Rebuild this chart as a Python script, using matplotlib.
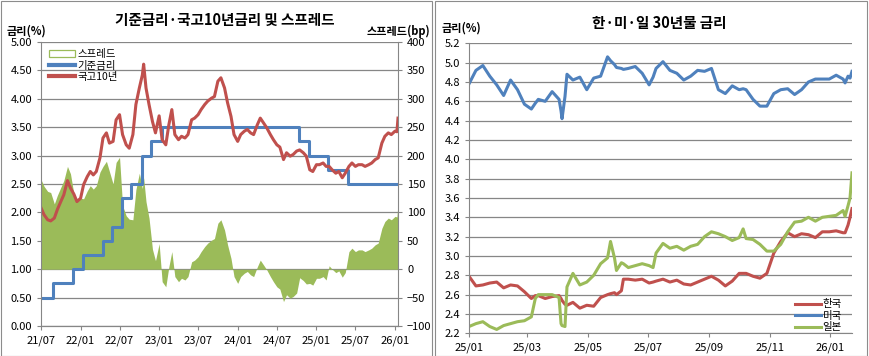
import matplotlib
matplotlib.use("Agg")
import matplotlib.pyplot as plt
import matplotlib.dates as mdates
from matplotlib.lines import Line2D
from matplotlib.patches import Patch, Rectangle
import numpy as np
import pandas as pd

plt.rcParams['font.family'] = ['Noto Sans CJK KR', 'DejaVu Sans']

RED = '#C0504D'
BLUE = '#4F81BD'
GREEN = '#9BBB59'
GRID = '#868686'

# ---- left panel: KTB 10y, base rate, spread ----
ktb_dates = [
    '2021-07-01', '2021-07-15', '2021-08-01', '2021-08-15', '2021-09-01', '2021-09-15',
    '2021-10-01', '2021-10-15', '2021-11-01', '2021-11-15', '2021-12-01', '2021-12-15',
    '2022-01-01', '2022-01-15', '2022-02-01', '2022-02-15', '2022-03-01', '2022-03-15',
    '2022-04-01', '2022-04-15', '2022-05-01', '2022-05-15', '2022-06-01', '2022-06-15',
    '2022-07-01', '2022-07-15', '2022-08-01', '2022-08-15', '2022-09-01', '2022-09-15',
    '2022-10-01', '2022-10-15', '2022-10-21', '2022-11-01', '2022-11-15', '2022-12-01',
    '2022-12-15', '2023-01-01', '2023-01-15', '2023-02-01', '2023-02-15', '2023-03-01',
    '2023-03-15', '2023-04-01', '2023-04-15', '2023-05-01', '2023-05-15', '2023-06-01',
    '2023-06-15', '2023-07-01', '2023-07-15', '2023-08-01', '2023-08-15', '2023-09-01',
    '2023-09-15', '2023-10-01', '2023-10-15', '2023-11-01', '2023-11-15', '2023-12-01',
    '2023-12-15', '2024-01-01', '2024-01-15', '2024-02-01', '2024-02-15', '2024-03-01',
    '2024-03-15', '2024-04-01', '2024-04-15', '2024-05-01', '2024-05-15', '2024-06-01',
    '2024-06-15', '2024-07-01', '2024-07-15', '2024-08-01', '2024-08-15', '2024-09-01',
    '2024-09-15', '2024-10-01', '2024-10-15', '2024-11-01', '2024-11-15', '2024-12-01',
    '2024-12-15', '2025-01-01', '2025-01-15', '2025-02-01', '2025-02-15', '2025-03-01',
    '2025-03-15', '2025-04-01', '2025-04-15', '2025-05-01', '2025-05-15', '2025-06-01',
    '2025-06-15', '2025-07-01', '2025-07-15', '2025-08-01', '2025-08-15', '2025-09-01',
    '2025-09-15', '2025-10-01', '2025-10-15', '2025-11-01', '2025-11-15', '2025-12-01',
    '2025-12-15', '2026-01-01', '2026-01-10', '2026-01-15',
]
ktb10 = [
    2.08, 1.96, 1.87, 1.85, 1.90, 2.05,
    2.19, 2.31, 2.56, 2.43, 2.32, 2.19,
    2.25, 2.49, 2.63, 2.72, 2.66, 2.72,
    2.96, 3.31, 3.40, 3.22, 3.25, 3.63,
    3.72, 3.37, 3.19, 3.13, 3.37, 3.90,
    4.19, 4.42, 4.61, 4.19, 3.90, 3.60,
    3.40, 3.70, 3.28, 3.19, 3.54, 3.81,
    3.37, 3.28, 3.34, 3.31, 3.37, 3.63,
    3.66, 3.72, 3.81, 3.90, 3.96, 4.01,
    4.04, 4.31, 4.37, 4.19, 3.93, 3.69,
    3.37, 3.25, 3.37, 3.43, 3.46, 3.40,
    3.37, 3.54, 3.66, 3.57, 3.49, 3.37,
    3.28, 3.19, 3.15, 2.93, 3.05, 2.99,
    3.02, 3.08, 3.10, 3.05, 2.99, 2.75,
    2.72, 2.84, 2.84, 2.87, 2.81, 2.81,
    2.75, 2.69, 2.72, 2.61, 2.69, 2.81,
    2.87, 2.81, 2.84, 2.84, 2.81, 2.84,
    2.87, 2.93, 2.96, 3.22, 3.34, 3.40,
    3.37, 3.43, 3.42, 3.66,
]
base_dates = ['2021-07-01', '2021-08-26', '2021-11-25', '2022-01-14', '2022-04-14',
              '2022-05-26', '2022-07-13', '2022-08-25', '2022-10-12', '2022-11-24',
              '2023-01-13', '2024-10-11', '2024-11-28', '2025-02-25', '2025-05-29']
base_rate = [0.50, 0.75, 1.00, 1.25, 1.50, 1.75, 2.25, 2.50, 3.00, 3.25,
             3.50, 3.25, 3.00, 2.75, 2.50]
left_ticks = ['2021-07-01', '2022-01-01', '2022-07-01', '2023-01-01', '2023-07-01',
              '2024-01-01', '2024-07-01', '2025-01-01', '2025-07-01', '2026-01-01']

# ---- right panel: 30y yields ----
y30_dates = [
    '2025-01-01', '2025-01-08', '2025-01-15', '2025-01-22', '2025-01-29', '2025-02-05',
    '2025-02-12', '2025-02-19', '2025-02-26', '2025-03-05', '2025-03-09', '2025-03-12',
    '2025-03-19', '2025-03-26', '2025-04-02', '2025-04-04', '2025-04-05', '2025-04-08',
    '2025-04-10', '2025-04-16', '2025-04-23', '2025-04-30', '2025-05-07', '2025-05-14',
    '2025-05-21', '2025-05-24', '2025-05-28', '2025-05-30', '2025-06-04', '2025-06-06',
    '2025-06-11', '2025-06-18', '2025-06-25', '2025-07-02', '2025-07-06', '2025-07-09',
    '2025-07-16', '2025-07-23', '2025-07-30', '2025-08-06', '2025-08-13', '2025-08-20',
    '2025-08-27', '2025-09-03', '2025-09-10', '2025-09-17', '2025-09-24', '2025-10-01',
    '2025-10-05', '2025-10-08', '2025-10-15', '2025-10-22', '2025-10-29', '2025-11-05',
    '2025-11-12', '2025-11-19', '2025-11-26', '2025-12-03', '2025-12-10', '2025-12-17',
    '2025-12-24', '2025-12-31', '2026-01-07', '2026-01-14', '2026-01-16', '2026-01-19',
    '2026-01-21', '2026-01-23',
]
kr30 = [
    2.79, 2.69, 2.70, 2.72, 2.73, 2.67,
    2.70, 2.69, 2.63, 2.56, 2.59, 2.59,
    2.56, 2.58, 2.59, 2.56, 2.54, 2.50,
    2.49, 2.52, 2.46, 2.49, 2.48, 2.57,
    2.60, 2.61, 2.62, 2.60, 2.64, 2.76,
    2.76, 2.75, 2.76, 2.72, 2.73, 2.74,
    2.76, 2.73, 2.75, 2.71, 2.70, 2.73,
    2.76, 2.79, 2.75, 2.69, 2.74, 2.82,
    2.82, 2.82, 2.79, 2.77, 2.82, 3.03,
    3.15, 3.24, 3.20, 3.23, 3.22, 3.19,
    3.25, 3.25, 3.26, 3.24, 3.24, 3.32,
    3.40, 3.49,
]
us30 = [
    4.78, 4.92, 4.97, 4.86, 4.77, 4.66,
    4.82, 4.72, 4.57, 4.52, 4.58, 4.62,
    4.60, 4.70, 4.62, 4.50, 4.42, 4.65,
    4.88, 4.82, 4.85, 4.72, 4.84, 4.86,
    5.06, 5.02, 4.98, 4.95, 4.94, 4.93,
    4.94, 4.96, 4.89, 4.77, 4.85, 4.94,
    5.01, 4.92, 4.89, 4.82, 4.86, 4.92,
    4.91, 4.94, 4.72, 4.68, 4.76, 4.72,
    4.73, 4.72, 4.62, 4.55, 4.55, 4.68,
    4.72, 4.73, 4.67, 4.72, 4.80, 4.83,
    4.83, 4.83, 4.87, 4.83, 4.79, 4.86,
    4.84, 4.91,
]
jp30 = [
    2.27, 2.30, 2.32, 2.27, 2.24, 2.28,
    2.30, 2.32, 2.33, 2.37, 2.56, 2.60,
    2.60, 2.60, 2.57, 2.30, 2.28, 2.27,
    2.68, 2.82, 2.70, 2.73, 2.80, 2.92,
    2.98, 3.15, 2.98, 2.85, 2.93, 2.92,
    2.88, 2.90, 2.92, 2.90, 2.88, 3.03,
    3.13, 3.08, 3.10, 3.06, 3.10, 3.12,
    3.20, 3.25, 3.23, 3.20, 3.16, 3.19,
    3.28, 3.18, 3.17, 3.12, 3.05, 3.05,
    3.12, 3.25, 3.35, 3.36, 3.40, 3.36,
    3.40, 3.41, 3.42, 3.47, 3.41, 3.52,
    3.60, 3.86,
]
right_ticks = ['2025-01-01', '2025-03-01', '2025-05-01', '2025-07-01',
               '2025-09-01', '2025-11-01', '2026-01-01']

kd = pd.to_datetime(ktb_dates)
bd = pd.to_datetime(base_dates)
idx = np.searchsorted(bd.values, kd.values, side='right') - 1
spread = (np.array(ktb10) - np.array(base_rate)[idx]) * 100
step_x = list(bd) + [kd[-1]]
step_y = base_rate + [base_rate[-1]]

W, H = 870, 356
fig = plt.figure(figsize=(8.7, 3.56), dpi=100)
fig.add_artist(Rectangle((0.5 / W, 0.5 / H), 432 / W, 355 / H, transform=fig.transFigure,
                         fill=False, ec='#8c8c8c', lw=0.8))
fig.add_artist(Rectangle((435.5 / W, 0.5 / H), 432 / W, 355 / H, transform=fig.transFigure,
                         fill=False, ec='#8c8c8c', lw=0.8))

# left chart
ax = fig.add_axes([41 / W, 1 - 326 / H, 357 / W, 284 / H])
ax2 = ax.twinx()
ax.set_zorder(ax2.get_zorder() + 1)
ax.patch.set_visible(False)

ax2.fill_between(kd, 0, spread, color=GREEN, lw=0)
ax2.set_ylim(-100, 400)
ax2.set_yticks(range(-100, 401, 50))
ax2.yaxis.grid(True, color=GRID, lw=0.9)
ax2.set_axisbelow(True)

ax.step(step_x, step_y, where='post', color=BLUE, lw=2.2)
ax.plot(kd, ktb10, color=RED, lw=2.2)
ax.set_ylim(0, 5)
ax.set_yticks(np.arange(0, 5.01, 0.5))
ax.set_yticklabels(['%.2f' % v for v in np.arange(0, 5.01, 0.5)])
ax.set_xlim(kd[0], kd[-1])
ax.set_xticks(pd.to_datetime(left_ticks))
ax.xaxis.set_major_formatter(mdates.DateFormatter('%y/%m'))

for a in (ax, ax2):
    for s in a.spines.values():
        s.set_color(GRID)
    a.spines['top'].set_visible(False)
    a.tick_params(direction='out', length=3, color=GRID, labelsize=8, pad=3.5)
ax.spines['right'].set_visible(False)
ax2.spines['left'].set_visible(False)

handles = [Patch(facecolor='white', edgecolor=GREEN, lw=0.9),
           Line2D([], [], color=BLUE, lw=3),
           Line2D([], [], color=RED, lw=3)]
ax.legend(handles, ['스프레드', '기준금리', '국고10년'], loc='upper left',
          bbox_to_anchor=(8 / 357, 1 - 7 / 284), frameon=False, fontsize=7.5,
          handlelength=2.5, handletextpad=0.2, labelspacing=0.15,
          borderpad=0, borderaxespad=0)

fig.text(225 / W, 1 - 20 / H, '기준금리·국고10년금리 및 스프레드', ha='center', va='center',
         fontsize=10.5, fontweight='bold')
fig.text(7 / W, 1 - 31 / H, '금리(%)', ha='left', va='center', fontsize=8, fontweight='bold')
fig.text(430 / W, 1 - 31 / H, '스프레드(bp)', ha='right', va='center', fontsize=8,
         fontweight='bold')

# right chart
rd = pd.to_datetime(y30_dates)
axr = fig.add_axes([469 / W, 1 - 333.3 / H, 383 / W, 290 / H])
axr.plot(rd, kr30, color=RED, lw=2.2, label='한국')
axr.plot(rd, us30, color=BLUE, lw=2.2, label='미국')
axr.plot(rd, jp30, color=GREEN, lw=2.2, label='일본')
axr.set_ylim(2.2, 5.2)
axr.set_yticks(np.arange(2.2, 5.21, 0.2))
axr.set_yticklabels(['%.1f' % v for v in np.arange(2.2, 5.21, 0.2)])
axr.set_xlim(rd[0], rd[-1])
axr.set_xticks(pd.to_datetime(right_ticks))
axr.xaxis.set_major_formatter(mdates.DateFormatter('%y/%m'))
axr.yaxis.grid(True, color=GRID, lw=0.9)
axr.set_axisbelow(True)
for s in axr.spines.values():
    s.set_color(GRID)
axr.spines['top'].set_visible(False)
axr.spines['right'].set_visible(False)
axr.tick_params(direction='out', length=3, color=GRID, labelsize=8, pad=3.5)
axr.legend(loc='lower right', bbox_to_anchor=(1 - 10 / 383, 1 / 290), frameon=False,
           fontsize=7.5, handlelength=2.5, handletextpad=0.2, labelspacing=0.15,
           borderpad=0, borderaxespad=0)

fig.text(659 / W, 1 - 23 / H, '한·미·일 30년물 금리', ha='center', va='center',
         fontsize=10.5, fontweight='bold')
fig.text(442 / W, 1 - 28 / H, '금리(%)', ha='left', va='center', fontsize=8,
         fontweight='bold')

fig.savefig('out.png', dpi=100)
